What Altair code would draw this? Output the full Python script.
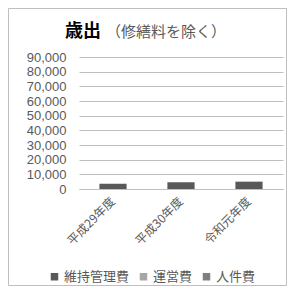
import altair as alt
import pandas as pd

categories = ["平成29年度", "平成30年度", "令和元年度"]
series = ["維持管理費", "運営費", "人件費"]
maintenance = [3500, 4600, 5000]
operation = [0, 0, 0]
personnel = [0, 0, 0]
colors = ["#595959", "#a6a6a6", "#7f7f7f"]
y_ticks = [0, 10000, 20000, 30000, 40000, 50000, 60000, 70000, 80000, 90000]

rows = []
for i, c in enumerate(categories):
    for s, vals in zip(series, [maintenance, operation, personnel]):
        rows.append({"年度": c, "項目": s, "金額": vals[i], "order": series.index(s)})
df = pd.DataFrame(rows)

FONT = "Noto Sans CJK JP"
NUMFONT = "Liberation Sans"
W, H = 204, 132

bars = alt.Chart(df).mark_bar().encode(
    x=alt.X("年度:N", sort=categories, title=None,
            scale=alt.Scale(paddingInner=0.6, paddingOuter=0.3),
            axis=alt.Axis(labelAngle=-45, labelAlign="right", labelBaseline="middle",
                          labelPadding=10, ticks=False, domainColor="#bfbfbf",
                          labelFont=FONT, labelFontSize=12, labelColor="#595959")),
    y=alt.Y("金額:Q", title=None, stack="zero",
            scale=alt.Scale(domain=[0, 90000], nice=False),
            axis=alt.Axis(values=y_ticks, format=",.0f", domain=False, ticks=False,
                          gridColor="#bfbfbf", labelPadding=13, labelFont=NUMFONT,
                          labelFontSize=13, labelColor="#595959")),
    color=alt.Color("項目:N", sort=series,
                    scale=alt.Scale(domain=series, range=colors),
                    legend=alt.Legend(title=None, orient="none", direction="horizontal",
                                      legendX=-31, legendY=213, symbolType="square",
                                      symbolSize=56, symbolStrokeWidth=0,
                                      labelFont=FONT, labelFontSize=13,
                                      labelColor="#595959", labelOffset=3,
                                      columnPadding=7, padding=0)),
    order=alt.Order("order:Q"),
)

title1 = alt.Chart(pd.DataFrame({"t": ["歳出"]})).mark_text(
    font=FONT, fontSize=18, fontWeight="bold", align="left", baseline="alphabetic", color="#000000"
).encode(text="t:N", x=alt.value(-14), y=alt.value(-20))

title2 = alt.Chart(pd.DataFrame({"t": ["（修繕料を除く）"]})).mark_text(
    font=FONT, fontSize=15, align="left", baseline="alphabetic", color="#595959"
).encode(text="t:N", x=alt.value(27), y=alt.value(-20))

frame = alt.Chart(pd.DataFrame({"a": [0]})).mark_rect(
    fill=None, stroke="#bfbfbf", strokeWidth=1
).encode(x=alt.value(-70.5), x2=alt.value(207.5), y=alt.value(-48.5), y2=alt.value(228.5))

chart = alt.layer(frame, bars, title1, title2).properties(
    width=W, height=H,
    padding={"left": 71, "top": 49, "right": 4, "bottom": 97},
    autosize=alt.AutoSizeParams(type="none"),
).configure_view(stroke=None)

chart.save("out.html", embed_options={"renderer": "svg", "actions": False})
